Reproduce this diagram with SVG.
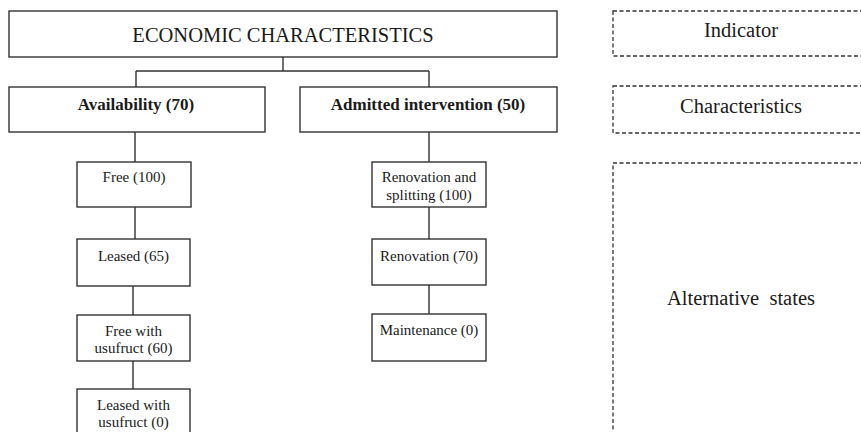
<svg xmlns="http://www.w3.org/2000/svg" width="861" height="432" viewBox="0 0 861 432">
<style>
.box{fill:#fff;stroke:#333;stroke-width:1.4}
.dash{fill:#fff;stroke:#333;stroke-width:1.3;stroke-dasharray:4 2.5}
.ln{fill:none;stroke:#333;stroke-width:1.4}
text{fill:#1a1a1a;text-anchor:middle}
.big{font-size:20.5px}
.bold{font-size:17px;font-weight:bold}
.sm{font-size:15px}
</style>
<rect width="861" height="432" fill="#fff"/>
<g id="connectors">
<path class="ln" d="M283,57V71M136,71H429M136,71V87M429,71V87"/>
<path class="ln" d="M135,132V162M135,207V239M133,286V315M133,361V389"/>
<path class="ln" d="M429,132V162M429,207V239M429,285V314"/>
</g>
<g font-family="'Liberation Serif', 'Times New Roman', serif">
<g id="economic"><rect class="box" x="9" y="11" width="548" height="46"/><text class="big" x="283" y="42">ECONOMIC CHARACTERISTICS</text></g>
<g id="availability"><rect class="box" x="9" y="87" width="256" height="45"/><text class="bold" x="136" y="110">Availability (70)</text></g>
<g id="admitted"><rect class="box" x="300" y="87" width="257" height="45"/><text class="bold" x="428" y="110">Admitted intervention (50)</text></g>
<g id="free"><rect class="box" x="77" y="162" width="114" height="45"/><text class="sm" x="134" y="182">Free (100)</text></g>
<g id="leased"><rect class="box" x="77" y="239" width="113" height="47"/><text class="sm" x="133.5" y="261">Leased (65)</text></g>
<g id="free-usufruct"><rect class="box" x="77" y="315" width="113" height="46"/><text class="sm" x="133.5" y="336">Free with</text><text class="sm" x="133.5" y="353">usufruct (60)</text></g>
<g id="leased-usufruct"><rect class="box" x="77" y="389" width="113" height="60"/><text class="sm" x="133.5" y="410">Leased with</text><text class="sm" x="133.5" y="427">usufruct (0)</text></g>
<g id="renovation-splitting"><rect class="box" x="372" y="162" width="114" height="45"/><text class="sm" x="429" y="182">Renovation and</text><text class="sm" x="429" y="200">splitting (100)</text></g>
<g id="renovation"><rect class="box" x="372" y="239" width="114" height="46"/><text class="sm" x="429" y="261">Renovation (70)</text></g>
<g id="maintenance"><rect class="box" x="372" y="314" width="114" height="47"/><text class="sm" x="429" y="335">Maintenance (0)</text></g>
<g id="legend-indicator"><rect class="dash" x="613" y="11" width="256" height="45"/><text class="big" x="741" y="37">Indicator</text></g>
<g id="legend-characteristics"><rect class="dash" x="613" y="86" width="256" height="47"/><text class="big" x="741" y="113">Characteristics</text></g>
<g id="legend-states"><rect class="dash" x="613" y="163" width="256" height="290"/><text class="big" x="741" y="305" xml:space="preserve">Alternative  states</text></g>
</g>
</svg>
